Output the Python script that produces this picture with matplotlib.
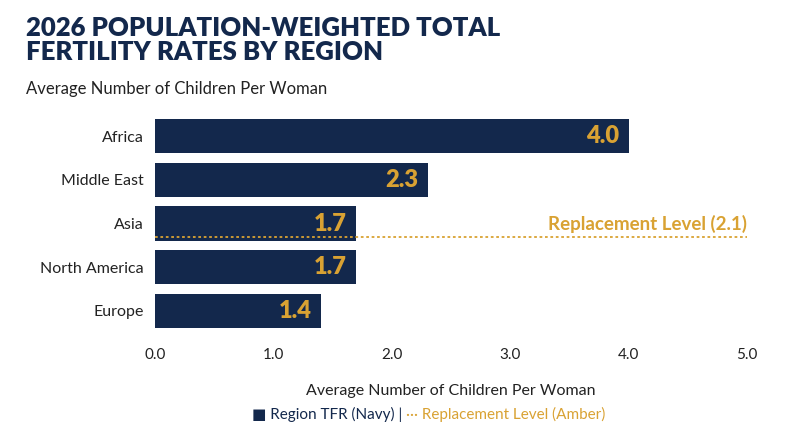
import matplotlib.pyplot as plt

regions = ["Africa", "Middle East", "Asia", "North America", "Europe"]
tfr = [4.0, 2.3, 1.7, 1.7, 1.4]
replacement = 2.1

navy = "#13284c"
amber = "#d9a233"
plt.rcParams['font.family'] = ['Lato', 'DejaVu Sans']

fig = plt.figure(figsize=(8, 4.47), dpi=100)
ax = fig.add_axes([0.194, 0.246, 0.74, 0.503])

ypos = list(range(len(regions)))
ax.barh(ypos, tfr, height=0.78, color=navy)
for y, v in zip(ypos, tfr):
    ax.text(v - 0.08, y, f"{v:.1f}", color=amber, fontsize=17, fontweight='heavy',
            ha='right', va='center')

# replacement marker line drawn just under the Asia bar
ax.axhline(2.32, color=amber, linestyle=(0, (1.5, 1.5)), linewidth=1.3)
ax.text(5.0, 2.0, f"Replacement Level ({replacement})", color=amber, fontsize=13.5,
        fontweight='bold', ha='right', va='center')

ax.set_yticks(ypos)
ax.set_yticklabels(regions, fontsize=11.5, color="#222222")
ax.set_xlim(0, 5)
ax.set_ylim(4.6, -0.55)
ax.set_xticks([0, 1, 2, 3, 4, 5])
ax.set_xticklabels([f"{t:.1f}" for t in range(6)], fontsize=11, color="#222222")
ax.tick_params(length=0, pad=8)
for s in ax.spines.values():
    s.set_visible(False)
ax.set_xlabel("Average Number of Children Per Woman", fontsize=11.5, color="#222222", labelpad=16)

fig.text(0.033, 0.965, "2026 POPULATION-WEIGHTED TOTAL\nFERTILITY RATES BY REGION",
         fontsize=18.5, fontweight='heavy', color=navy, va='top', linespacing=1.0)
fig.text(0.033, 0.8, "Average Number of Children Per Woman", fontsize=12,
         color="#222222", va='center')

fig.text(0.508, 0.073, "■ Region TFR (Navy) | ", fontsize=11, color=navy, ha='right', va='center')
fig.text(0.508, 0.073, "··· Replacement Level (Amber)", fontsize=11, color=amber, ha='left', va='center')

fig.savefig("out.png", dpi=100)
